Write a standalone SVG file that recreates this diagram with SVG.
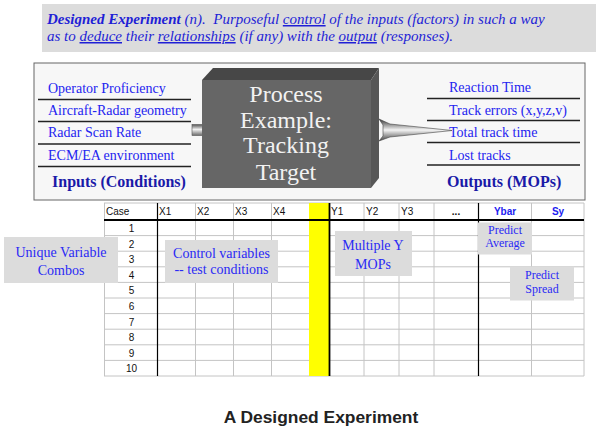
<svg xmlns="http://www.w3.org/2000/svg" width="596" height="430" viewBox="0 0 596 430">
  <defs>
    <style>
      .def { font-family: "Liberation Serif", "Times New Roman", serif; font-size: 15px; font-style: italic; fill: #1f1fd6; white-space: pre; }
      .item { font-family: "Liberation Serif", "Times New Roman", serif; font-size: 14px; fill: #2424f0; }
      .head { font-family: "Liberation Serif", "Times New Roman", serif; font-size: 16px; font-weight: bold; fill: #1a1aa8; }
      .proc { font-family: "Liberation Serif", "Times New Roman", serif; font-size: 24px; fill: #f2f2f2; text-anchor: middle; }
      .rule { stroke: #222; stroke-width: 1.5; }
      .cell { font-family: "Liberation Sans", Arial, sans-serif; font-size: 10px; fill: #111; }
      .num { font-family: "Liberation Sans", Arial, sans-serif; font-size: 10px; fill: #111; text-anchor: middle; }
      .calc { font-family: "Liberation Sans", Arial, sans-serif; font-size: 10px; font-weight: bold; fill: #2020f0; text-anchor: middle; }
      .grid { stroke: #c4c4c4; stroke-width: 1; }
      .bold { stroke: #000; stroke-width: 1.2; }
      .note { fill: #dcdcdc; }
      .nt { font-family: "Liberation Serif", "Times New Roman", serif; font-size: 14px; fill: #2a2af5; text-anchor: middle; }
      .ns { font-family: "Liberation Serif", "Times New Roman", serif; font-size: 12px; fill: #2a2af5; text-anchor: middle; }
      .title { font-family: "Liberation Sans", Arial, sans-serif; font-size: 17.4px; font-weight: bold; fill: #222; text-anchor: middle; }
    </style>
    <linearGradient id="tube" x1="0" y1="0" x2="0" y2="1">
      <stop offset="0" stop-color="#555"/>
      <stop offset="0.45" stop-color="#f2f2f2"/>
      <stop offset="1" stop-color="#6a6a6a"/>
    </linearGradient>
    <linearGradient id="cone" x1="0" y1="0" x2="0" y2="1">
      <stop offset="0" stop-color="#333"/>
      <stop offset="0.5" stop-color="#f4f4f4"/>
      <stop offset="1" stop-color="#444"/>
    </linearGradient>
  </defs>

  <!-- definition banner -->
  <g id="definition">
    <rect x="42" y="4" width="554" height="48" fill="#dcdcdc"/>
    <text class="def" x="47" y="24" xml:space="preserve"><tspan font-weight="bold">Designed Experiment</tspan> (n).  Purposeful <tspan text-decoration="underline">control</tspan> of the inputs (factors) in such a way</text>
    <text class="def" x="47" y="41" xml:space="preserve">as to <tspan text-decoration="underline">deduce</tspan> their <tspan text-decoration="underline">relationships</tspan> (if any) with the <tspan text-decoration="underline">output</tspan> (responses).</text>
  </g>

  <!-- process panel -->
  <g id="panel">
    <rect x="34" y="63" width="551" height="137" fill="#f7f7f7" stroke="#666" stroke-width="1"/>
  </g>

  <g id="inputs">
    <text class="item" x="48" y="93">Operator Proficiency</text>
    <text class="item" x="48" y="115">Aircraft-Radar geometry</text>
    <text class="item" x="48" y="137">Radar Scan Rate</text>
    <text class="item" x="48" y="160">ECM/EA environment</text>
    <line class="rule" x1="38" y1="99.5" x2="191" y2="99.5"/>
    <line class="rule" x1="38" y1="121.5" x2="191" y2="121.5"/>
    <line class="rule" x1="38" y1="144" x2="191" y2="144"/>
    <line class="rule" x1="38" y1="166.5" x2="191" y2="166.5"/>
    <text class="head" x="52" y="187">Inputs (Conditions)</text>
  </g>

  <g id="outputs">
    <text class="item" x="449" y="92">Reaction Time</text>
    <text class="item" x="449" y="115">Track errors (x,y,z,v)</text>
    <text class="item" x="449" y="137">Total track time</text>
    <text class="item" x="449" y="160">Lost tracks</text>
    <line class="rule" x1="427" y1="98.5" x2="580" y2="98.5"/>
    <line class="rule" x1="427" y1="120.5" x2="580" y2="120.5"/>
    <line class="rule" x1="427" y1="142.5" x2="580" y2="142.5"/>
    <line class="rule" x1="427" y1="165" x2="580" y2="165"/>
    <text class="head" x="447" y="187">Outputs (MOPs)</text>
  </g>

  <!-- flow into and out of the process block -->
  <g id="connectors">
    <rect x="192" y="124.5" width="11" height="11" fill="url(#tube)" stroke="#555" stroke-width="0.6"/>
    <polygon points="379,119 390,124 452,130.5 390,137 379,141 383,136 383,125" fill="url(#cone)" stroke="#444" stroke-width="0.6"/>
  </g>

  <g id="process">
    <polygon points="202,80 213,68 379,68 371,80" fill="#474747"/>
    <polygon points="371,80 379,68 379,178 371,188" fill="#575757"/>
    <rect x="202" y="80" width="169" height="108" fill="#666"/>
    <text class="proc" x="286" y="102">Process</text>
    <text class="proc" x="286" y="128">Example:</text>
    <text class="proc" x="286" y="153">Tracking</text>
    <text class="proc" x="286" y="180">Target</text>
  </g>

  <!-- experiment matrix -->
  <g id="matrix">
    <rect x="104" y="203" width="480" height="173" fill="#fff"/>
    <g class="grid">
      <line x1="104" y1="203" x2="584" y2="203"/>
      <line x1="104" y1="235.6" x2="584" y2="235.6"/>
      <line x1="104" y1="251.2" x2="584" y2="251.2"/>
      <line x1="104" y1="266.8" x2="584" y2="266.8"/>
      <line x1="104" y1="282.4" x2="584" y2="282.4"/>
      <line x1="104" y1="298" x2="584" y2="298"/>
      <line x1="104" y1="313.6" x2="584" y2="313.6"/>
      <line x1="104" y1="329.2" x2="584" y2="329.2"/>
      <line x1="104" y1="344.8" x2="584" y2="344.8"/>
      <line x1="104" y1="360.4" x2="584" y2="360.4"/>
      <line x1="104" y1="376" x2="584" y2="376"/>
      <line x1="104.5" y1="203" x2="104.5" y2="376"/>
      <line x1="195.5" y1="203" x2="195.5" y2="376"/>
      <line x1="233.5" y1="203" x2="233.5" y2="376"/>
      <line x1="271.5" y1="203" x2="271.5" y2="376"/>
      <line x1="364" y1="203" x2="364" y2="376"/>
      <line x1="399" y1="203" x2="399" y2="376"/>
      <line x1="434" y1="203" x2="434" y2="376"/>
      <line x1="531.5" y1="203" x2="531.5" y2="376"/>
      <line x1="584" y1="203" x2="584" y2="376"/>
    </g>
    <rect x="309" y="203" width="20" height="173" fill="#ffff00"/>
    <line class="bold" x1="157.5" y1="203" x2="157.5" y2="376"/>
    <line x1="329.5" y1="203" x2="329.5" y2="376" stroke="#000" stroke-width="1.8"/>
    <line class="bold" x1="478.5" y1="203" x2="478.5" y2="376"/>
    <line x1="104" y1="220" x2="584" y2="220" stroke="#000" stroke-width="2"/>

    <text class="cell" x="106" y="215">Case</text>
    <text class="cell" x="159" y="215">X1</text>
    <text class="cell" x="197" y="215">X2</text>
    <text class="cell" x="235" y="215">X3</text>
    <text class="cell" x="273" y="215">X4</text>
    <text class="cell" x="331" y="215">Y1</text>
    <text class="cell" x="366" y="215">Y2</text>
    <text class="cell" x="401" y="215">Y3</text>
    <text class="num" x="456" y="215" font-weight="bold">...</text>
    <text class="calc" x="505" y="215">Ybar</text>
    <text class="calc" x="558" y="215">Sy</text>

    <text class="num" x="131.5" y="232">1</text>
    <text class="num" x="131.5" y="247.5">2</text>
    <text class="num" x="131.5" y="263">3</text>
    <text class="num" x="131.5" y="278.5">4</text>
    <text class="num" x="131.5" y="294">5</text>
    <text class="num" x="131.5" y="310">6</text>
    <text class="num" x="131.5" y="325.5">7</text>
    <text class="num" x="131.5" y="341">8</text>
    <text class="num" x="131.5" y="356.5">9</text>
    <text class="num" x="131.5" y="372">10</text>
  </g>

  <!-- annotation callouts -->
  <g id="note-combos">
    <rect class="note" x="4" y="237" width="114" height="46"/>
    <text class="nt" x="61" y="257">Unique Variable</text>
    <text class="nt" x="61" y="275">Combos</text>
  </g>
  <g id="note-control">
    <rect class="note" x="165" y="240" width="113" height="43"/>
    <text class="nt" x="221.5" y="258">Control variables</text>
    <text class="nt" x="221.5" y="273.5">-- test conditions</text>
  </g>
  <g id="note-mops">
    <rect class="note" x="335" y="231" width="77" height="45"/>
    <text class="nt" x="373" y="250">Multiple Y</text>
    <text class="nt" x="373" y="268.5">MOPs</text>
  </g>
  <g id="note-average">
    <rect class="note" x="478" y="222.5" width="54" height="32"/>
    <text class="ns" x="505" y="234">Predict</text>
    <text class="ns" x="505" y="247">Average</text>
  </g>
  <g id="note-spread">
    <rect class="note" x="510" y="266.5" width="64" height="34"/>
    <text class="ns" x="542" y="278.5">Predict</text>
    <text class="ns" x="542" y="292.5">Spread</text>
  </g>

  <g id="caption">
    <text class="title" x="321" y="423">A Designed Experiment</text>
  </g>
</svg>
